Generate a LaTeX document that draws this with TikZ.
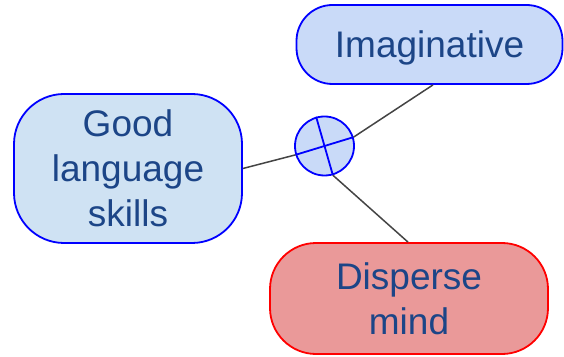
\documentclass[tikz,border=0pt]{standalone}
\usepackage{fontspec}
\setmainfont{Liberation Sans}
\definecolor{txtblue}{HTML}{1C4587}
\definecolor{fillA}{HTML}{CFE2F3}
\definecolor{fillB}{HTML}{C9DAF8}
\definecolor{fillR}{HTML}{EA9999}
\definecolor{conn}{HTML}{444444}
\begin{document}
\begin{tikzpicture}[x=1pt,y=1pt,
  concept/.style={draw=blue, line width=1.8pt, inner sep=0pt, align=center,
    text=txtblue, font=\fontsize{37}{45}\selectfont},
  link/.style={draw=conn, line width=1.5pt},
  cross/.style={draw=blue, line width=1.8pt}]
\useasboundingbox (0,0) rectangle (564,356);
\node[concept, fill=fillA, minimum width=228pt, minimum height=149pt, rounded corners=50pt] (good) at (128,187.5) {Good\\language\\skills};
\node[concept, fill=fillB, minimum width=266pt, minimum height=79pt, rounded corners=36pt, text depth=0pt] (imag) at (429.5,311.5) {Imaginative};
\node[concept, draw=red, fill=fillR, minimum width=278pt, minimum height=111pt, rounded corners=46pt] (disp) at (409,57.5) {Disperse\\mind};
\node[circle, draw=blue, line width=1.8pt, fill=fillB, minimum size=59pt, inner sep=0pt] (c) at (324.5,210) {};
\draw[cross] (c.197) -- (c.17);
\draw[cross] (c.106) -- (c.286);
\coordinate (imagend) at ([xshift=3.5pt]imag.south);
\coordinate (dispend) at ([xshift=-1pt]disp.north);
\draw[link] (good.east) -- (c.197);
\draw[link] (c.17) -- (imagend);
\draw[link] (c.286) -- (dispend);
\end{tikzpicture}
\end{document}
